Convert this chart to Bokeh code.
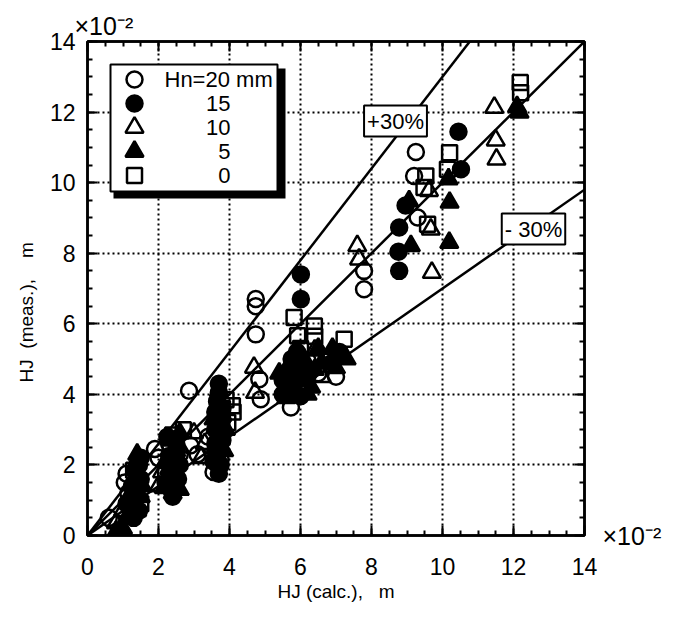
from bokeh.plotting import figure
from bokeh.models import Range1d, LinearAxis, SingleIntervalTicker, Label
from bokeh.embed import file_html
from bokeh.resources import INLINE
from bokeh.core.properties import value

# ---------------- data (values in units of 10^-2 m) ----------------
hn20_x = [0.6, 1.05, 1.1, 1.15, 1.4, 1.9, 2.0, 2.3, 2.6, 2.9, 2.86, 3.1, 3.55, 3.7, 3.6, 3.75, 3.4,
          4.74, 4.74, 4.74, 4.84, 4.88, 5.73, 6.5, 6.2, 7.0, 7.79, 7.79, 9.25, 9.2, 9.3]
hn20_y = [0.5, 1.5, 1.75, 1.2, 2.0, 2.45, 2.2, 2.6, 2.3, 2.55, 4.1, 2.3, 1.8, 1.95, 2.4, 2.15, 2.8,
          6.7, 6.5, 5.7, 4.43, 3.86, 3.63, 4.6, 4.95, 4.5, 7.5, 6.98, 10.87, 10.19, 9.01]

hn15_x = [1.2, 1.35, 1.5, 1.25, 1.1, 1.45, 1.3, 1.35, 1.5, 1.45,
          2.2, 2.35, 2.45, 2.5, 2.3, 2.25, 2.55, 2.4, 2.45, 2.35, 2.6,
          3.6, 3.7, 3.7, 3.6, 3.8, 3.55, 3.7, 3.8, 3.65, 3.75, 3.6, 3.7, 3.8, 3.65, 3.75,
          6.01, 6.01, 5.6, 5.8, 5.5, 6.0, 6.2, 5.9, 6.9, 7.1, 5.7, 5.5, 5.8, 6.1, 5.75,
          8.78, 8.76, 8.78, 8.96, 10.45, 10.52]
hn15_y = [0.75, 1.15, 1.6, 1.4, 0.9, 2.0, 0.5, 1.85, 2.2, 0.7,
          1.5, 1.3, 1.85, 2.6, 2.25, 2.8, 1.6, 1.1, 2.2, 1.6, 2.0,
          3.5, 4.05, 4.3, 3.0, 2.7, 2.1, 1.75, 3.3, 3.8, 3.2, 2.6, 3.0, 3.6, 2.2, 2.0,
          7.4, 6.7, 4.3, 4.8, 4.0, 3.95, 4.55, 5.2, 4.9, 5.2, 4.6, 4.4, 4.1, 4.7, 5.0,
          8.73, 8.04, 7.5, 9.35, 11.44, 10.38]

hn10_x = [0.8, 1.3, 2.1, 2.6, 3.0, 3.3, 3.2, 2.0, 1.0,
          4.69, 4.72, 6.4, 6.6, 5.9, 7.6, 7.65,
          9.62, 9.67, 9.7, 11.46, 11.5, 11.52]
hn10_y = [0.35, 1.0, 1.8, 2.5, 2.9, 2.6, 2.2, 1.4, 0.7,
          4.76, 4.05, 5.25, 4.5, 4.4, 8.21, 7.83,
          9.77, 8.68, 7.45, 12.13, 11.2, 10.66]

hn5_x = [0.8, 1.0, 1.4, 1.5, 1.3, 1.1, 1.25, 1.55, 1.4,
         2.3, 2.4, 2.2, 2.6, 2.15, 2.5, 2.35, 2.6,
         3.6, 3.8, 3.9, 3.65, 3.7, 3.55, 3.85, 3.7,
         5.7, 6.0, 5.4, 6.3, 6.5, 6.6, 7.0, 7.3, 6.9, 5.6, 6.1, 5.6, 5.9, 6.2, 6.4,
         9.06, 9.11, 10.17, 10.2, 10.19, 12.17, 12.1]
hn5_y = [0.1, 0.2, 0.7, 1.1, 1.6, 0.5, 1.25, 1.4, 2.3,
         1.9, 1.2, 2.1, 2.9, 1.35, 2.4, 2.7, 1.3,
         3.05, 3.4, 3.0, 2.5, 3.7, 3.3, 2.4, 4.1,
         4.2, 4.4, 4.6, 4.2, 5.3, 4.9, 4.75, 5.0, 5.3, 3.9, 5.0, 4.7, 4.9, 4.0, 4.7,
         9.48, 8.21, 10.1, 9.44, 8.3, 11.99, 12.15]

hn0_x = [1.3, 1.4, 1.5, 2.4, 2.5, 2.2, 3.8, 3.9, 4.08, 2.7,
         5.82, 6.39, 5.92, 6.4, 7.23, 6.0, 4.1, 3.95,
         9.53, 9.48, 9.58, 10.2, 10.14, 12.19, 12.2]
hn0_y = [1.85, 1.45, 0.9, 2.85, 2.2, 1.7, 3.6, 3.85, 3.68, 3.0,
         6.18, 5.94, 5.66, 5.65, 5.56, 5.3, 3.5, 3.2,
         10.19, 9.86, 8.82, 10.85, 10.38, 12.84, 12.55]

series_labels = ["Hn=20 mm", "15", "10", "5", "0"]
ratios = [1.0, 1.3, 0.7]
ratio_labels = ["+30%", "- 30%"]
scale_note = "×10⁻²"
x_title = "HJ\u00a0(calc.),\u00a0\u00a0\u00a0m"
y_title = "HJ\u00a0\u00a0(meas.),\u00a0\u00a0\u00a0\u00a0m" + "\u00a0" * 9
axis_max = 14
tick_step = 2

# ---------------- layout ----------------
FONT = "Liberation Sans"
W, H = 676, 608
ML, MT, MR, MB = 87, 41, 92, 73
FW, FH = W - ML - MR, H - MT - MB


def dx(px):  # page pixel x -> data x
    return (px - 8 - ML) / FW * axis_max


def dy(py):  # page pixel y -> data y
    return (8 + MT + FH - py) / FH * axis_max


p = figure(width=W, height=H, x_range=Range1d(0, axis_max), y_range=Range1d(0, axis_max),
           output_backend="svg", toolbar_location=None,
           min_border_left=ML, min_border_top=MT, min_border_right=MR, min_border_bottom=MB)
p.outline_line_color = "black"
p.outline_line_width = 2.5
p.background_fill_color = "white"
p.border_fill_color = "white"

# scale note at top-left, as the plot title
p.title.text = scale_note
p.title.align = "left"
p.title.offset = -13
p.title.text_font = FONT
p.title.text_font_size = "25px"
p.title.text_font_style = "normal"
p.title.text_color = "black"
p.title.standoff = 4

ticker = SingleIntervalTicker(interval=tick_step, num_minor_ticks=4)
p.add_layout(LinearAxis(), "above")
p.add_layout(LinearAxis(), "right")
for ax in p.axis:
    ax.ticker = ticker
    ax.axis_line_width = 2.5
    ax.axis_line_color = "black"
    ax.major_tick_in = 10
    ax.major_tick_out = 0
    ax.minor_tick_in = 5
    ax.minor_tick_out = 0
    ax.major_tick_line_width = 2
    ax.minor_tick_line_width = 2
    ax.major_tick_line_color = "black"
    ax.minor_tick_line_color = "black"
    ax.major_label_text_font = FONT
    ax.major_label_text_font_size = "23px"
    ax.major_label_text_color = "black"
    ax.axis_label_text_font = FONT
    ax.axis_label_text_font_style = "normal"
    ax.axis_label_text_font_size = "19px"
    ax.axis_label_text_color = "black"

top_ax = p.above[0]
top_ax.major_label_text_color = None
top_ax.major_label_text_font_size = "0px"
top_ax.major_label_standoff = 0

# right axis: only the bottom tick carries the x10^-2 note (for the abscissa)
right_ax = p.right[0]
right_ax.major_label_overrides = {v: "" for v in range(2, axis_max + 1, tick_step)}
right_ax.major_label_overrides[0] = scale_note
right_ax.major_label_orientation = "horizontal"
right_ax.major_label_text_font_size = "25px"
right_ax.major_label_standoff = 18

xa = p.below[0]
ya = p.left[0]
xa.axis_label = x_title
xa.major_label_standoff = 22
xa.axis_label_standoff = 3
ya.axis_label = y_title
ya.major_label_standoff = 12
ya.axis_label_standoff = 10

for g in (p.xgrid[0], p.ygrid[0]):
    g.ticker = ticker
    g.grid_line_color = "black"
    g.grid_line_width = 2
    g.grid_line_dash = "2 3"

# reference lines: y = k x, clipped to the plot box
x0 = [0.0 for _ in ratios]
y0 = [0.0 for _ in ratios]
x1 = [min(axis_max, axis_max / k) for k in ratios]
y1 = [k * min(axis_max, axis_max / k) for k in ratios]
p.segment(x0=x0, y0=y0, x1=x1, y1=y1, line_color="black", line_width=2.5)

# data series
MS = dict(line_color="black", line_width=2.5)
styles = [
    (hn20_x, hn20_y, "circle", 16, None),
    (hn15_x, hn15_y, "circle", 16, "black"),
    (hn10_x, hn10_y, "triangle", 18, None),
    (hn5_x, hn5_y, "triangle", 18, "black"),
    (hn0_x, hn0_y, "square", 15, None),
]
for xs, ys, mk, sz, fc in styles:
    p.scatter(xs, ys, marker=mk, size=sz, fill_color=fc, **MS)

# +30% / -30% tags
for txt, (cx, cy) in zip(ratio_labels, [(403, 128.5), (541, 236.5)]):
    p.add_layout(Label(x=dx(cx), y=dy(cy), text=txt, text_font=FONT, text_font_size="22px",
                       text_align="center", text_baseline="middle", text_color="black",
                       background_fill_color="white", border_line_color="black",
                       border_line_width=2, padding=3))

# custom legend with drop shadow (drawn as glyphs above the data)
p.quad(left=[dx(121)], right=[dx(293)], top=[dy(76)], bottom=[dy(206)],
       fill_color="black", line_color=None)
p.quad(left=[dx(118)], right=[dx(285)], top=[dy(72)], bottom=[dy(199)],
       fill_color="white", line_color="black", line_width=2)
rows = [87, 111, 135, 159, 183]
for (xs, ys, mk, sz, fc), ry in zip(styles, rows):
    p.scatter([dx(142)], [dy(ry)], marker=mk, size=sz, fill_color=fc, **MS)
p.text(x=[dx(172)], y=[dy(rows[0])], text=[series_labels[0]], text_font=value(FONT),
       text_font_size=value("22px"), text_align="left", text_baseline="middle", text_color="black")
p.text(x=[dx(238)] * 4, y=[dy(r) for r in rows[1:]], text=series_labels[1:], text_font=value(FONT),
       text_font_size=value("22px"), text_align="right", text_baseline="middle", text_color="black")

open("out.html", "w").write(file_html(p, INLINE))
